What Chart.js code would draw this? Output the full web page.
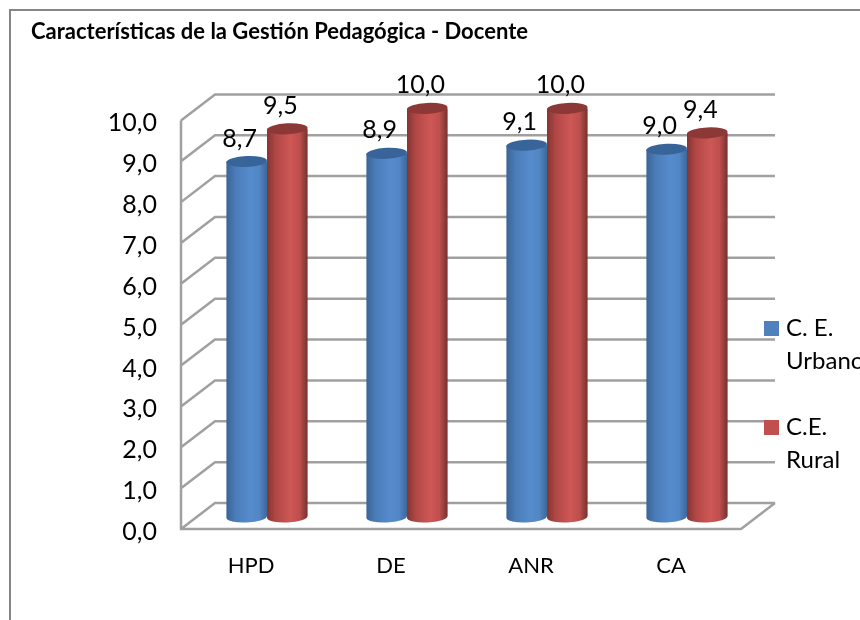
<!DOCTYPE html>
<html>
<head>
<meta charset="utf-8">
<title>Características de la Gestión Pedagógica - Docente</title>
<script src="https://cdn.jsdelivr.net/npm/chart.js@4"></script>
<style>
  html, body { margin: 0; padding: 0; background: #fff; overflow: hidden; }
  canvas { display: block; }
</style>
</head>
<body>
<canvas id="chartCanvas" width="860" height="620"></canvas>
<script>
const categories = ["HPD", "DE", "ANR", "CA"];
const urbanValues = [8.7, 8.9, 9.1, 9.0];
const ruralValues = [9.5, 10.0, 10.0, 9.4];
const urbanLegend = ["C. E.", "Urbano"];
const ruralLegend = ["C.E.", "Rural"];

const fontName = "Lato, 'Open Sans', sans-serif";
const gridColor = "#a0a0a0";

// depth of the fake 3D box, and where the bars stand inside it
const wallX = 34, wallY = -26;
const barX = 16, barY = -12;
const capRy = 5.5;

// left edge -> right edge shading of the cylinders
const shades = {
  "#4f81bd": { stops: ["#3a6496", "#4a7cb8", "#568bcc", "#5287c6", "#3d6797"], cap: "#39649a" },
  "#c0504d": { stops: ["#863432", "#b04846", "#ce5755", "#bd4f4c", "#763230"], cap: "#8b3836" }
};

function commaLabel(v) {
  return Number(v).toFixed(1).replace(".", ",");
}

// bars are drawn as cylinders, geometry still comes from the bar element
Chart.BarElement.prototype.draw = function (ctx) {
  const { x, y, base, width } = this.getProps(["x", "y", "base", "width"], true);
  const shade = shades[this.options.backgroundColor];
  const left = x - width / 2 + barX, right = x + width / 2 + barX;
  const cx = x + barX, top = y + barY, bottom = base + barY;
  const tilt = -0.05;

  const grad = ctx.createLinearGradient(left, 0, right, 0);
  shade.stops.forEach((c, i) => grad.addColorStop([0, 0.22, 0.58, 0.8, 1][i], c));

  ctx.save();
  ctx.fillStyle = grad;
  ctx.beginPath();
  ctx.moveTo(left, top);
  ctx.lineTo(right, top);
  ctx.lineTo(right, bottom);
  ctx.ellipse(cx, bottom, width / 2, capRy, tilt, 0, Math.PI);
  ctx.lineTo(left, top);
  ctx.closePath();
  ctx.fill();
  ctx.fillStyle = shade.cap;
  ctx.beginPath();
  ctx.ellipse(cx, top, width / 2, capRy, tilt, 0, Math.PI * 2);
  ctx.fill();
  ctx.restore();
};

const boxPlugin = {
  id: "box3d",
  beforeDatasetsDraw(chart) {
    const { ctx, chartArea: area, scales } = chart;
    ctx.save();
    // outer frame runs off the page on the right and bottom
    ctx.strokeStyle = "#868686";
    ctx.lineWidth = 2;
    ctx.strokeRect(10, 10, 880, 640);

    ctx.strokeStyle = gridColor;
    ctx.lineWidth = 2.5;
    ctx.beginPath();
    scales.y.ticks.forEach(t => {
      const py = scales.y.getPixelForValue(t.value);
      ctx.moveTo(area.left, py);
      ctx.lineTo(area.left + wallX, py + wallY);
      ctx.lineTo(area.right + wallX, py + wallY);
    });
    // left edge and floor front
    ctx.moveTo(area.left, area.top);
    ctx.lineTo(area.left, area.bottom);
    ctx.lineTo(area.right, area.bottom);
    ctx.lineTo(area.right + wallX, area.bottom + wallY);
    ctx.stroke();
    ctx.restore();
  },
  // the normal pass paints later datasets first, here the red ones must overlap the blue
  beforeDatasetDraw() {
    return false;
  },
  afterDatasetsDraw(chart) {
    const { ctx } = chart;
    chart.data.datasets.forEach((ds, i) => {
      chart.getDatasetMeta(i).data.forEach(bar => bar.draw(ctx));
    });

    ctx.save();
    ctx.fillStyle = "#000";
    ctx.font = "25px " + fontName;
    ctx.textAlign = "center";
    ctx.textBaseline = "alphabetic";
    chart.data.datasets.forEach((ds, i) => {
      chart.getDatasetMeta(i).data.forEach((bar, j) => {
        ctx.fillText(commaLabel(ds.data[j]), bar.x + barX - 7, bar.y + barY - 15);
      });
    });

    // legend sits over the grid lines, two lines per entry
    ctx.textAlign = "left";
    ctx.font = "24px " + fontName;
    [[urbanLegend, 321], [ruralLegend, 420]].forEach(([lines, top], i) => {
      ctx.fillStyle = chart.data.datasets[i].backgroundColor;
      ctx.fillRect(764, top, 15, 15);
      ctx.fillStyle = "#000";
      lines.forEach((line, k) => ctx.fillText(line, 786, top + 15 + k * 33));
    });
    ctx.restore();
  }
};

const chart = new Chart(document.getElementById("chartCanvas").getContext("2d"), {
  type: "bar",
  data: {
    labels: categories,
    datasets: [
      { label: urbanLegend.join(" "), data: urbanValues, backgroundColor: "#4f81bd" },
      { label: ruralLegend.join(" "), data: ruralValues, backgroundColor: "#c0504d" }
    ]
  },
  options: {
    responsive: false,
    animation: false,
    layout: { padding: { left: 31, right: 119, top: 0, bottom: 0 } },
    datasets: { bar: { barPercentage: 1, categoryPercentage: 0.58 } },
    plugins: {
      legend: { display: false },
      tooltip: { enabled: false },
      title: {
        display: true,
        text: "Características de la Gestión Pedagógica - Docente",
        align: "start",
        color: "#000",
        font: { family: fontName, size: 22, weight: "bold" },
        padding: { top: 19, bottom: 75 }
      }
    },
    scales: {
      x: {
        grid: { display: false },
        border: { display: false },
        afterFit(scale) { scale.height = 91; },
        ticks: { color: "#000", padding: 16, maxRotation: 0, font: { family: fontName, size: 22 } }
      },
      y: {
        min: 0,
        max: 10,
        grid: { display: false },
        border: { display: false },
        afterFit(scale) { scale.width = 150; },
        ticks: {
          stepSize: 1,
          color: "#000",
          padding: 16,
          labelOffset: 3,
          font: { family: fontName, size: 25 },
          callback: commaLabel
        }
      }
    }
  },
  plugins: [boxPlugin]
});
</script>
</body>
</html>
